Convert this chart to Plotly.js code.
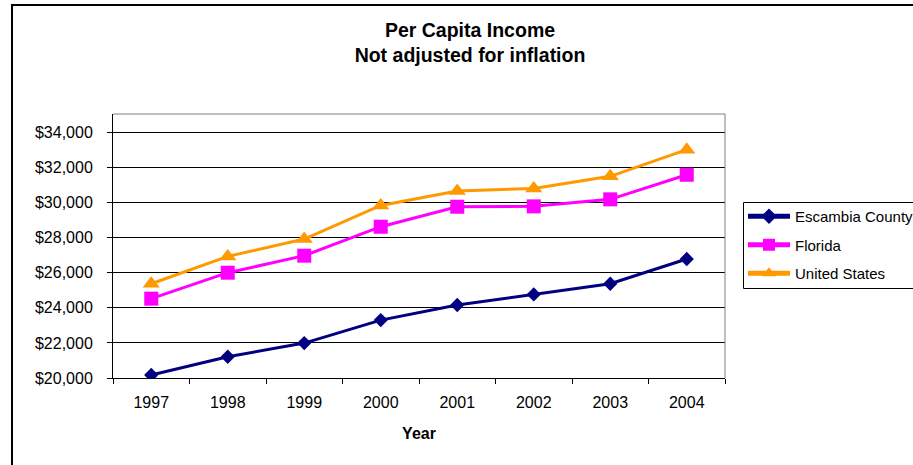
<!DOCTYPE html>
<html>
<head>
<meta charset="utf-8">
<script src="https://cdn.plot.ly/plotly-3.0.1.min.js"></script>
<style>
  html, body { margin: 0; padding: 0; background: #fff; }
  #chart { width: 913px; height: 465px; }
</style>
</head>
<body>
<div id="chart"></div>
<script>
const years = ['1997', '1998', '1999', '2000', '2001', '2002', '2003', '2004'];
const escambiaCounty = [20170, 21210, 21990, 23300, 24160, 24760, 25370, 26780];
const florida = [24520, 26000, 26970, 28620, 29760, 29780, 30180, 31580];
const unitedStates = [25370, 26930, 27920, 29830, 30660, 30800, 31490, 33010];
const yTickValues = [20000, 22000, 24000, 26000, 28000, 30000, 32000, 34000];
const yTickLabels = ['$20,000', '$22,000', '$24,000', '$26,000', '$28,000', '$30,000', '$32,000', '$34,000'];

const FONT = 'Liberation Sans, Arial, sans-serif';

const traces = [
  {
    x: years, y: escambiaCounty, name: 'Escambia County', type: 'scatter', mode: 'lines+markers',
    legendgroup: 'a',
    line: { color: '#000080', width: 3 },
    marker: { symbol: 'diamond', size: 11, color: '#000080' }
  },
  {
    x: years, y: florida, name: 'Florida', type: 'scatter', mode: 'lines+markers',
    legendgroup: 'b',
    line: { color: '#FF00FF', width: 3 },
    marker: { symbol: 'square', size: 14, color: '#FF00FF' }
  },
  {
    x: years, y: unitedStates, name: 'United States', type: 'scatter', mode: 'lines+markers',
    legendgroup: 'c',
    line: { color: '#FF9900', width: 3 },
    marker: { symbol: 'triangle-up', size: 15, color: '#FF9900' }
  }
];

const L = 113, R = 188, T = 114, B = 87, W = 913, H = 465;
const pw = W - L - R, ph = H - T - B;
const px2x = p => (p - L) / pw;
const px2y = p => (H - B - p) / ph;

const layout = {
  width: W, height: H,
  margin: { l: L, r: R, t: T, b: B, autoexpand: false },
  paper_bgcolor: '#ffffff',
  plot_bgcolor: '#ffffff',
  font: { family: FONT, color: '#000' },
  showlegend: true,
  title: {
    text: 'Per Capita Income<br>Not adjusted for inflation',
    font: { family: FONT, size: 19.5, weight: 'bold', color: '#000' },
    x: 470 / W, xref: 'container', xanchor: 'center',
    y: 1 - 37 / H, yref: 'container', yanchor: 'top'
  },
  xaxis: {
    type: 'category',
    range: [-0.5, 7.5],
    tickson: 'boundaries',
    ticks: 'outside', ticklen: 5, tickcolor: '#000', tickwidth: 1,
    showline: true, linecolor: '#000', linewidth: 1,
    showgrid: false, zeroline: false,
    tickfont: { family: FONT, size: 16, color: '#000' },
    ticklabelstandoff: 10,
    title: { text: 'Year', font: { family: FONT, size: 16, weight: 'bold', color: '#000' }, standoff: 17 },
    fixedrange: true
  },
  yaxis: {
    range: [20000, 35043],
    tickmode: 'array',
    tickvals: yTickValues,
    ticktext: yTickLabels,
    ticks: 'outside', ticklen: 5, tickcolor: '#000', tickwidth: 1,
    showline: true, linecolor: '#000', linewidth: 1,
    showgrid: true, gridcolor: '#000', gridwidth: 1,
    zeroline: false,
    tickfont: { family: FONT, size: 16, color: '#000' },
    ticklabelstandoff: 11,
    fixedrange: true
  },
  legend: {
    x: px2x(743), xanchor: 'left',
    y: px2y(200), yanchor: 'top',
    bgcolor: 'rgba(0,0,0,0)',
    borderwidth: 0,
    font: { family: FONT, size: 15, color: '#000' },
    traceorder: 'grouped', tracegroupgap: 6,
    itemwidth: 42, itemsizing: 'constant'
  },
  shapes: [
    { type: 'line', xref: 'paper', yref: 'paper', x0: 0, x1: 1, y0: 1, y1: 1, line: { color: '#808080', width: 1 } },
    { type: 'line', xref: 'paper', yref: 'paper', x0: 1, x1: 1, y0: 0, y1: 1, line: { color: '#808080', width: 1 } },
    { type: 'rect', xref: 'paper', yref: 'paper',
      x0: px2x(743.5), x1: px2x(W + 20), y0: px2y(288.5), y1: px2y(202.5),
      line: { color: '#000', width: 1 } },
    { type: 'rect', xref: 'paper', yref: 'paper',
      x0: px2x(12), x1: px2x(W + 20),
      y0: px2y(H + 20), y1: px2y(5),
      line: { color: '#000', width: 2 } }
  ]
};

Plotly.newPlot('chart', traces, layout, { displayModeBar: false, staticPlot: true });
</script>
</body>
</html>
